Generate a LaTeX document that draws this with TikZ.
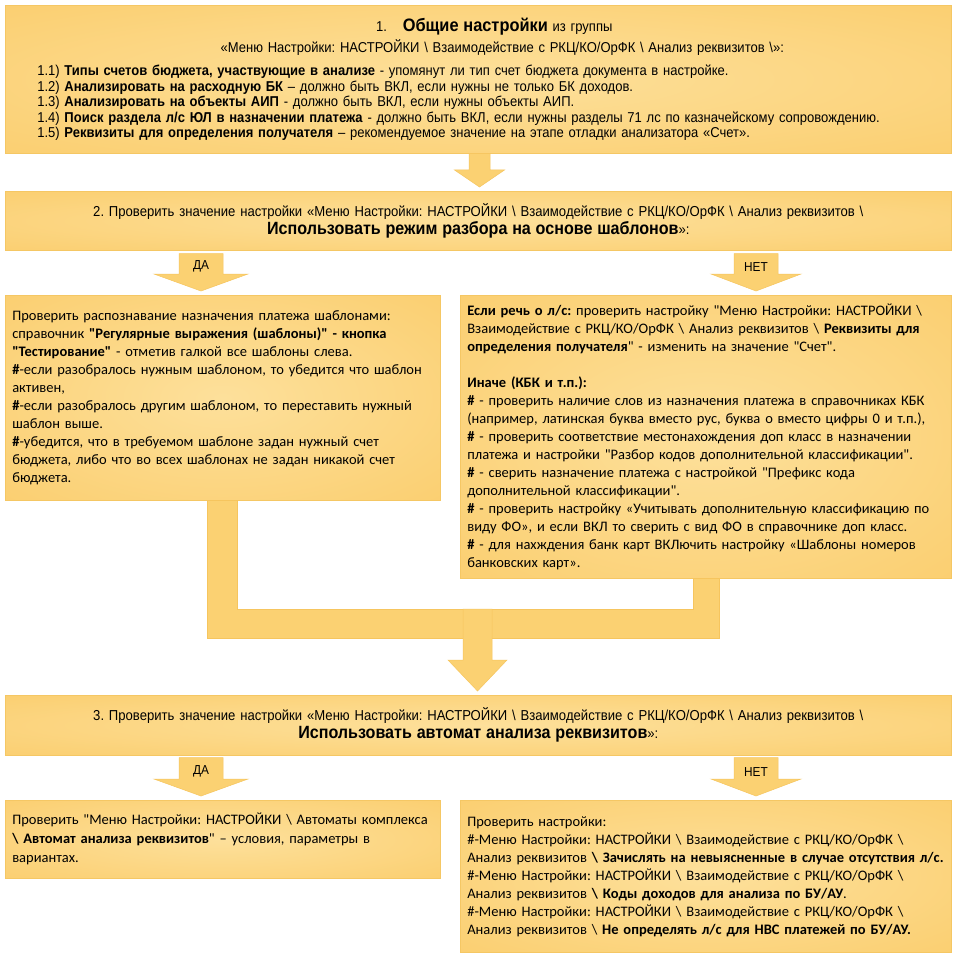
\documentclass[tikz,border=0pt]{standalone}
\usepackage{fontspec}
\setmainfont{Carlito}[Ligatures=TeXOff]
\newfontfamily\hdrfont[FakeStretch=0.91]{Liberation Sans}
\usetikzlibrary{calc}
\frenchspacing

\definecolor{boxin}{RGB}{253,224,155}
\definecolor{boxout}{RGB}{250,200,96}
\definecolor{boxline}{RGB}{245,199,100}
\definecolor{arrowfill}{RGB}{251,209,114}
\definecolor{arrowline}{RGB}{246,197,94}
\pgfdeclareradialshading{boxglow}{\pgfpoint{0bp}{0bp}}{color(0bp)=(boxin); color(50bp)=(boxout); color(72bp)=(boxout)}

% #1 start, #2 target node, #3 half shaft, #4 half head, #5 head length
\newcommand\flowarrow[5]{%
	\filldraw[flow] ($(#1)+(-#3,0)$) -- ($(#1)+(#3,0)$) --
		($(#2.north -| #1)+(#3,-4-#5)$) -- ($(#2.north -| #1)+(#4,-4-#5)$) --
		($(#2.north -| #1)+(0,-4)$) --
		($(#2.north -| #1)+(-#4,-4-#5)$) -- ($(#2.north -| #1)+(-#3,-4-#5)$) -- cycle;}

\begin{document}
\begin{tikzpicture}[
    x = 1pt, y = -1pt,
    box/.style = {shade, shading = boxglow, draw = boxline, line width = 0.6pt,
        anchor = north west, inner xsep = 7pt, inner ysep = 0pt},
    hdr/.style = {font = \hdrfont\fontsize{14.4}{18}\selectfont, align = center},
    side/.style = {font = \fontsize{14.5}{18}\selectfont, align = left},
    flow/.style = {fill = arrowfill, draw = arrowline, line width = 0.5pt},
    yesno/.style = {font = \hdrfont\fontsize{13}{14}\selectfont, inner sep = 0pt}]

\fill[white] (0,0) rectangle (957,960);
\useasboundingbox (0,0) rectangle (957,960);

\node[box, minimum width = 946, minimum height = 148, text width = 932, align = left,
	font = \hdrfont\fontsize{14.3}{15.5}\selectfont] (b1) at (5,5) {%
	{\centering \hspace*{32pt}1.\hspace{1.1em}{\fontsize{18}{18}\selectfont\bfseries Общие настройки} из группы\par
	\vspace{3pt}\hspace*{48pt}«Меню Настройки: НАСТРОЙКИ \textbackslash{} Взаимодействие с РКЦ/КО/ОрФК \textbackslash{} Анализ реквизитов \textbackslash»:\par}
	\vspace{8pt}\leftskip=25pt
	1.1) \textbf{Типы счетов бюджета, участвующие в анализе} - упомянут ли тип счет бюджета документа в настройке.\\
	1.2) \textbf{Анализировать на расходную БК} – должно быть ВКЛ, если нужны не только БК доходов.\\
	1.3) \textbf{Анализировать на объекты АИП} - должно быть ВКЛ, если нужны объекты АИП.\\
	1.4) \textbf{Поиск раздела л/с ЮЛ в назначении платежа} - должно быть ВКЛ, если нужны разделы 71 лс по казначейскому сопровождению.\\
	1.5) \textbf{Реквизиты для определения получателя} – рекомендуемое значение на этапе отладки анализатора «Счет».\par\vspace*{7pt}};

\node[box, hdr, minimum width = 946, minimum height = 59, text width = 932] (b2) at (5,191) {%
	2. Проверить значение настройки «Меню Настройки: НАСТРОЙКИ \textbackslash{} Взаимодействие с РКЦ/КО/ОрФК \textbackslash{} Анализ реквизитов \textbackslash\\
	{\fontsize{17.7}{18}\selectfont\bfseries Использовать режим разбора на основе шаблонов}»:};

\node[box, side, minimum width = 435, minimum height = 205, text width = 421] (bL) at (5,295) {%
	Проверить распознавание назначения платежа шаблонами:\\
	справочник \textbf{"Регулярные выражения (шаблоны)" - кнопка}\\
	\textbf{"Тестирование"} - отметив галкой все шаблоны слева.\\
	\textbf{\#}-если разобралось нужным шаблоном, то убедится что шаблон\\
	активен,\\
	\textbf{\#}-если разобралось другим шаблоном, то переставить нужный\\
	шаблон выше.\\
	\textbf{\#}-убедится, что в требуемом шаблоне задан нужный счет\\
	бюджета, либо что во всех шаблонах не задан никакой счет\\
	бюджета.\par\vspace*{16pt}};

\node[box, side, minimum width = 491, minimum height = 283, text width = 477] (bR) at (460,295) {%
	\textbf{Если речь о л/с:} проверить настройку "Меню Настройки: НАСТРОЙКИ \textbackslash\\
	Взаимодействие с РКЦ/КО/ОрФК \textbackslash{} Анализ реквизитов \textbackslash{} \textbf{Реквизиты для}\\
	\textbf{определения получателя}" - изменить на значение "Счет".\\[18pt]
	\textbf{Иначе (КБК и т.п.):}\\
	\textbf{\#} - проверить наличие слов из назначения платежа в справочниках КБК\\
	(например, латинская буква вместо рус, буква о вместо цифры 0 и т.п.),\\
	\textbf{\#} - проверить соответствие местонахождения доп класс в назначении\\
	платежа и настройки "Разбор кодов дополнительной классификации".\\
	\textbf{\#} - сверить назначение платежа с настройкой "Префикс кода\\
	дополнительной классификации".\\
	\textbf{\#} - проверить настройку «Учитывать дополнительную классификацию по\\
	виду ФО», и если ВКЛ то сверить с вид ФО в справочнике доп класс.\\
	\textbf{\#} - для нахждения банк карт ВКЛючить настройку «Шаблоны номеров\\
	банковских карт».\par\vspace*{2pt}};

\node[box, hdr, minimum width = 946, minimum height = 60, text width = 932] (b3) at (5,695) {%
	3. Проверить значение настройки «Меню Настройки: НАСТРОЙКИ \textbackslash{} Взаимодействие с РКЦ/КО/ОрФК \textbackslash{} Анализ реквизитов \textbackslash\\
	{\fontsize{17.7}{18}\selectfont\bfseries Использовать автомат анализа реквизитов}»:};

\node[box, side, minimum width = 435, minimum height = 78, text width = 421,
	font = \fontsize{14.5}{19}\selectfont] (bL2) at (5,800) {%
	Проверить "Меню Настройки: НАСТРОЙКИ \textbackslash{} Автоматы комплекса\\
	\textbf{\textbackslash{} Автомат анализа реквизитов}" – условия, параметры в\\
	вариантах.\par\vspace*{-8pt}};

\node[box, side, minimum width = 491, minimum height = 152, text width = 477] (bR2) at (460,800) {%
	Проверить настройки:\\
	\#-Меню Настройки: НАСТРОЙКИ \textbackslash{} Взаимодействие с РКЦ/КО/ОрФК \textbackslash\\
	Анализ реквизитов \textbf{\textbackslash{} Зачислять на невыясненные в случае отсутствия л/с.}\\
	\#-Меню Настройки: НАСТРОЙКИ \textbackslash{} Взаимодействие с РКЦ/КО/ОрФК \textbackslash\\
	Анализ реквизитов \textbf{\textbackslash{} Коды доходов для анализа по БУ/АУ}.\\
	\#-Меню Настройки: НАСТРОЙКИ \textbackslash{} Взаимодействие с РКЦ/КО/ОрФК \textbackslash\\
	Анализ реквизитов \textbackslash{} \textbf{Не определять л/с для НВС платежей по БУ/АУ.}\par};

\coordinate (a12) at (b1.south -| 479.5,0);
\coordinate (yes1) at ($(b2.south -| 201,0)+(0,3)$);
\coordinate (no1) at ($(b2.south -| 756,0)+(0,3)$);
\coordinate (merge) at (477.5,609);
\coordinate (yes2) at ($(b3.south -| 201,0)+(0,2)$);
\coordinate (no2) at ($(b3.south -| 756,0)+(0,2)$);

\flowarrow{a12}{b2}{10.5}{25}{17}
\flowarrow{yes1}{bL}{22}{47}{17}
\flowarrow{no1}{bR}{22}{45}{17}
\filldraw[flow] (bL.south -| 207,0) -- (bL.south -| 237,0) -- (237,609) -- (693,609) --
	  (bR.south -| 693,0) -- (bR.south -| 719,0) -- (719,638) -- (207,638) -- cycle;
\flowarrow{merge}{b3}{14.5}{29.5}{31}
\flowarrow{yes2}{bL2}{22}{47}{17}
\flowarrow{no2}{bR2}{22}{45}{17}

\path (yes1) ++(0,13) node[yesno](yes1t) {ДА}
	  (no1) ++(0,13) node[yesno](no1t) {НЕТ}
	  (yes2) ++(0,14) node[yesno](yes2t) {ДА}
	  (no2) ++(0,14) node[yesno](no2t) {НЕТ};
\end{tikzpicture}
\end{document}
